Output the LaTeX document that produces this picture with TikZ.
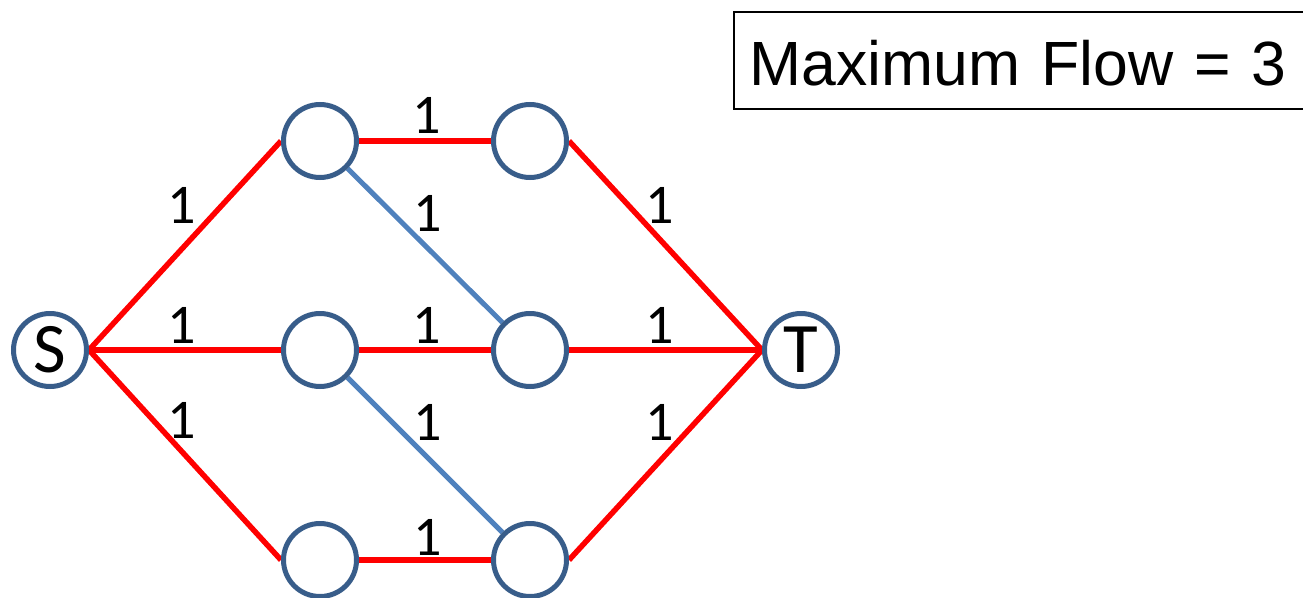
\documentclass[tikz,border=0pt]{standalone}
\usepackage{fontspec}
\setmainfont{Carlito}
\newfontfamily\boxfont{Liberation Sans}
\definecolor{nodeblue}{RGB}{56,93,138}
\definecolor{edgeblue}{RGB}{79,129,189}
\definecolor{edgered}{RGB}{255,0,0}
\pgfdeclarelayer{edges}
\pgfsetlayers{edges,main}
\begin{document}
\begin{tikzpicture}[x=1pt,y=-1pt,
  vertex/.style={circle,draw=nodeblue,line width=5pt,fill=white,minimum size=73pt,inner sep=0pt,font=\fontsize{71}{71}\selectfont},
  flow/.style={draw=edgered,line width=5.5pt},
  spare/.style={draw=edgeblue,line width=5pt},
  capnum/.style={anchor=base,inner sep=0pt,font=\fontsize{56}{56}\selectfont},
  result/.style={draw=black,line width=1.5pt,anchor=west,text width=550pt,align=left,inner xsep=16pt,inner ysep=0pt,minimum height=97pt,text height=49pt,text depth=0pt,font=\boxfont\fontsize{62.5}{62.5}\selectfont}]
\useasboundingbox (0,0) rectangle (1303,597);
\begin{scope}
\clip (0,0) rectangle (1303,597);
\node[result] (res) at (733,60.5) {Maximum Flow = 3};
\end{scope}
\node[vertex] (s) at (50,350) {S};
\node[vertex] (t) at (801,350) {T};
\node[vertex] (a1) at (320,141) {};
\node[vertex] (b1) at (530,141) {};
\node[vertex] (a2) at (320,350) {};
\node[vertex] (b2) at (530,350) {};
\node[vertex] (a3) at (320,560) {};
\node[vertex] (b3) at (530,560) {};
\begin{pgfonlayer}{edges}
\draw[flow] (s.east) -- (a1.west);
\draw[flow] (s.east) -- (a2.west);
\draw[flow] (s.east) -- (a3.west);
\draw[flow] (a1.east) -- (b1.west);
\draw[flow] (a2.east) -- (b2.west);
\draw[flow] (a3.east) -- (b3.west);
\draw[flow] (b1.east) -- (t.west);
\draw[flow] (b2.east) -- (t.west);
\draw[flow] (b3.east) -- (t.west);
\draw[spare] (a1) -- (b2);
\draw[spare] (a2) -- (b3);
\end{pgfonlayer}
% capacities
\node[capnum] (l1) at (182,223) {1};
\node[capnum] (l2) at (182,343) {1};
\node[capnum] (l3) at (182,438) {1};
\node[capnum] (l4) at (427,133) {1};
\node[capnum] (l5) at (428,231) {1};
\node[capnum] (l6) at (427,343) {1};
\node[capnum] (l7) at (428,440) {1};
\node[capnum] (l8) at (428,555) {1};
\node[capnum] (l9) at (660,223) {1};
\node[capnum] (l10) at (660,343) {1};
\node[capnum] (l11) at (660,440) {1};
\end{tikzpicture}
\end{document}
